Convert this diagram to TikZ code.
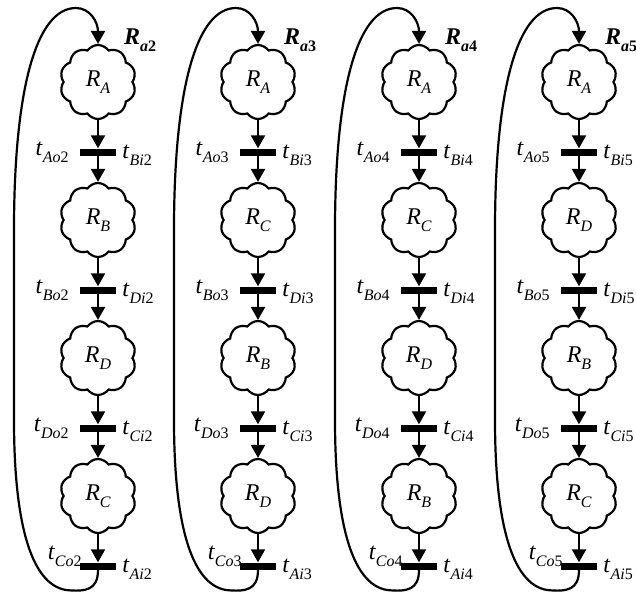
\documentclass[tikz,border=0pt]{standalone}
\usepackage{fontspec}
\setmainfont{Liberation Serif}
\usepackage{tikz}
\usetikzlibrary{shapes.symbols, positioning, arrows.meta}

\newcommand{\mainsz}{\fontsize{24}{26}\selectfont}
\newcommand{\subsz}{\fontsize{16}{17}\selectfont}
% place and transition names
\newcommand{\rname}[1]{\textit{R}\raisebox{-0.3em}{\subsz\textit{#1}}}
\newcommand{\tname}[2]{\textit{t}\raisebox{-0.3em}{\subsz\textit{#1}#2}}
\newcommand{\aname}[1]{\textbf{\textit{R}\raisebox{-0.3em}{\subsz\textit{a}#1}}}

\tikzset{
  place/.style={cloud, draw, cloud puffs=10, cloud puff arc=110, aspect=1,
    minimum width=76pt, minimum height=74pt, inner sep=0pt, line width=2.2pt, font=\mainsz},
  trans/.style={fill=black, minimum width=36pt, minimum height=7pt, inner sep=0pt},
  tlab/.style={font=\mainsz, inner sep=0pt},
  flow/.style={line width=2.2pt, -{Triangle[length=13pt,width=14pt]}},
}

\begin{document}
\begin{tikzpicture}[x=1pt,y=-1pt]
    \useasboundingbox (0,0) rectangle (636,597);
    \foreach \k/\cx/\ca/\cb/\cc/\cd in {2/98/A/B/D/C, 3/258/A/C/B/D, 4/419/A/C/D/B, 5/579/A/D/B/C} {
        % places
        \node[place] (c\k1) at (\cx,82) {\rname{\ca}};
        \node[place] (c\k2) at (\cx,220) {\rname{\cb}};
        \node[place] (c\k3) at (\cx,358) {\rname{\cc}};
        \node[place] (c\k4) at (\cx,496) {\rname{\cd}};
        \node[tlab, anchor=west] (a\k) at (\cx+26,40) {\aname{\k}};
        % transitions
        \foreach \j/\y in {1/152,2/290,3/428,4/566}
            \node[trans] (b\k\j) at (\cx,\y) {};
        \foreach \j/\o/\i in {1/A/B,2/B/D,3/D/C} {
            \node[tlab, left=11pt of b\k\j] (lo\k\j) {\tname{\o o}{\k}};
            \node[tlab, right=6pt of b\k\j, yshift=-3pt] (li\k\j) {\tname{\i i}{\k}};
        }
        \node[tlab, left=-2pt of b\k4, yshift=10pt] (lo\k4) {\tname{Co}{\k}};
        \node[tlab, right=6pt of b\k4, yshift=-3pt] (li\k4) {\tname{Ai}{\k}};
        % arcs
        \foreach \j/\n in {1/2,2/3,3/4} {
            \draw[flow] (c\k\j) -- (b\k\j);
            \draw[flow] (b\k\j) -- (c\k\n);
        }
        \draw[flow] (c\k4) -- (b\k4);
        \draw[flow] (b\k4.south) .. controls (\cx,590) and (\cx-12,592) .. (\cx-32,590)
            .. controls (\cx-68,584) and (\cx-84,520) .. (\cx-84,420)
            -- (\cx-84,230)
            .. controls (\cx-84,90) and (\cx-62,8) .. (\cx-22,8)
            .. controls (\cx-8,8) and (\cx,22) .. (c\k1.north);
    }
\end{tikzpicture}
\end{document}
